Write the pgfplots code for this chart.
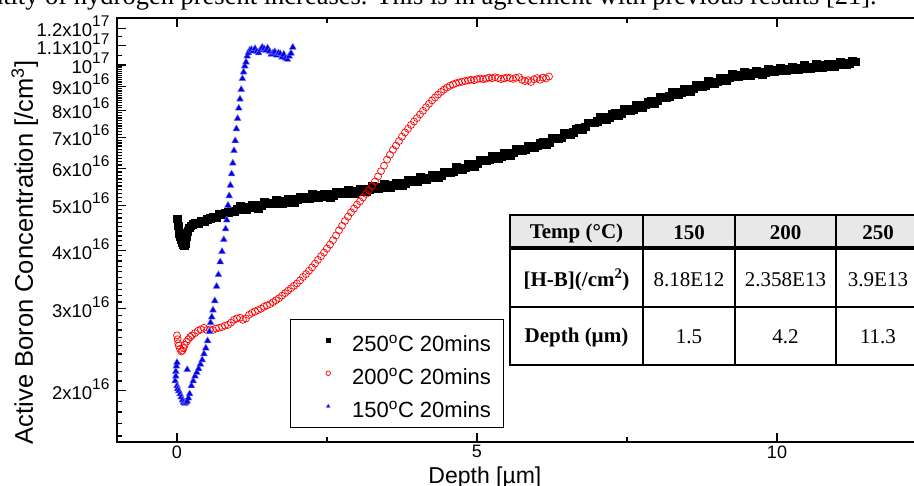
\documentclass[border=0pt]{standalone}
\usepackage{fontspec}
\setmainfont{Liberation Sans}
\newfontfamily\serif{Liberation Serif}
\usepackage{pgfplots}
\pgfplotsset{compat=1.18}
\newcommand{\fs}[1]{\fontsize{#1}{#1}\selectfont}
% big raised exponent as in the original tick labels
\newcommand{\tsup}[1]{\raisebox{10pt}{\fs{15.5}#1}}
\pgfplotsset{
  dotlegend/.style={legend image code/.code={%
    \path[draw=none, fill=none] (0pt,0pt) (50pt,0pt);
    \draw[##1, mark size=2.3pt] plot coordinates {(29pt,0pt)};}},
}

\begin{document}
\begin{tikzpicture}[x=1pt,y=1pt]
\useasboundingbox (0,0) rectangle (914,486);
\clip (0,0) rectangle (914,486);
% remnant of the page text above the figure
\node[anchor=base east, font=\serif\fs{26.5}, inner sep=0pt] at (877,481)
  {quantity of hydrogen present increases. This is in agreement with previous results [21].};
\begin{axis}[
    at={(117pt,44pt)}, anchor=south west,
    scale only axis, width=840pt, height=424pt,
    xmin=-1, xmax=13,
    ymode=log, ymin=1.553, ymax=12.62,
    axis line style={line width=2.2pt},
    tick style={line width=1.3pt, black},
    tick align=inside,
    major tick length=9pt, minor tick length=5pt,
    xtick={0,5,10}, xticklabels={0,5,10},
    minor xtick={2.5,7.5},
    ytick={2,3,4,5,6,7,8,9,10,11,12},
    yticklabels={2x10\tsup{16},3x10\tsup{16},4x10\tsup{16},5x10\tsup{16},
      6x10\tsup{16},7x10\tsup{16},8x10\tsup{16},9x10\tsup{16},10\tsup{17},
      1.1x10\tsup{17},1.2x10\tsup{17}},
    minor ytick={1.6,1.7,1.8,1.9,2.1,2.2,2.3,2.4,2.5,2.6,2.7,2.8,2.9,
      3.1,3.2,3.3,3.4,3.5,3.6,3.7,3.8,3.9,4.1,4.2,4.3,4.4,4.5,4.6,4.7,4.8,4.9,
      5.1,5.2,5.3,5.4,5.5,5.6,5.7,5.8,5.9,6.1,6.2,6.3,6.4,6.5,6.6,6.7,6.8,6.9,
      7.1,7.2,7.3,7.4,7.5,7.6,7.7,7.8,7.9,8.1,8.2,8.3,8.4,8.5,8.6,8.7,8.8,8.9,
      9.1,9.2,9.3,9.4,9.5,9.6,9.7,9.8,9.9,10.5,11.5},
    xticklabel style={font=\fs{18}},
    yticklabel style={font=\fs{18.5}, anchor=base east, xshift=-4pt, yshift=-8.5pt},
    xlabel={Depth [µm]},
    ylabel={Active Boron Concentration [/cm\textsuperscript{3}]},
    xlabel style={font=\fs{23}, at={(axis description cs:0.438,-0.0979)}, anchor=base},
    ylabel style={font=\fs{25.5}, at={(axis description cs:-0.1,0.447)}, anchor=base},
    legend style={at={(axis description cs:0.206,0.290)}, anchor=north west,
      draw=black, thin, font=\fs{22}, inner xsep=9pt, inner ysep=7pt,
      row sep=5pt, nodes={inner sep=3pt, text height=22pt, text depth=0pt}},
    legend cell align=left,
]
% 250 C
\addplot[only marks, mark=square*, mark size=3.8pt, black, dotlegend] coordinates {
(0.00,4.68) (0.01,4.60) (0.02,4.52) (0.03,4.44) (0.04,4.36) (0.05,4.28) (0.06,4.22)
(0.08,4.16) (0.10,4.12) (0.12,4.10) (0.14,4.15) (0.16,4.28) (0.18,4.40) (0.20,4.48)
(0.23,4.52) (0.26,4.55) (0.30,4.58) (0.35,4.57) (0.40,4.63) (0.45,4.62) (0.50,4.67)
(0.55,4.69) (0.60,4.72) (0.65,4.71) (0.70,4.78) (0.75,4.77) (0.80,4.82) (0.85,4.84)
(0.90,4.86) (0.95,4.85) (1.00,4.90) (1.10,4.95) (1.20,4.94) (1.30,5.01) (1.40,4.99)
(1.50,5.07) (1.60,5.05) (1.70,5.11) (1.80,5.08) (1.90,5.15) (2.00,5.14) (2.10,5.20)
(2.20,5.18) (2.30,5.25) (2.40,5.23) (2.50,5.28) (2.60,5.26) (2.70,5.33) (2.80,5.31)
(2.90,5.37) (3.00,5.35) (3.10,5.42) (3.20,5.41) (3.30,5.47) (3.40,5.46) (3.50,5.52)
(3.60,5.51) (3.70,5.58) (3.80,5.58) (3.90,5.66) (4.00,5.64) (4.10,5.73) (4.20,5.73)
(4.30,5.81) (4.40,5.81) (4.50,5.90) (4.60,5.91) (4.70,6.01) (4.80,6.02) (4.90,6.13)
(5.00,6.14) (5.10,6.25) (5.20,6.26) (5.30,6.37) (5.40,6.38) (5.50,6.49) (5.60,6.48)
(5.70,6.59) (5.80,6.60) (5.90,6.70) (6.00,6.71) (6.10,6.84) (6.20,6.84) (6.30,6.98)
(6.40,6.99) (6.50,7.14) (6.60,7.17) (6.70,7.34) (6.80,7.37) (6.90,7.53) (7.00,7.58)
(7.10,7.71) (7.20,7.74) (7.30,7.88) (7.40,7.89) (7.50,8.04) (7.60,8.05) (7.70,8.20)
(7.80,8.22) (7.90,8.37) (8.00,8.39) (8.10,8.55) (8.20,8.57) (8.30,8.73) (8.40,8.74)
(8.50,8.89) (8.60,8.90) (8.70,9.05) (8.80,9.06) (8.90,9.21) (9.00,9.22) (9.10,9.37)
(9.20,9.39) (9.30,9.53) (9.40,9.51) (9.50,9.61) (9.60,9.59) (9.70,9.68) (9.80,9.66)
(9.90,9.75) (10.00,9.73) (10.10,9.82) (10.20,9.79) (10.30,9.88) (10.40,9.85)
(10.50,9.93) (10.60,9.90) (10.70,9.99) (10.80,9.95) (10.90,10.04) (11.00,10.01)
(11.10,10.10) (11.20,10.07) (11.30,10.16)
(1.05,4.99) (1.15,4.90) (1.25,5.00) (1.35,4.93) (1.45,5.08) (1.55,5.04) (1.65,5.14)
(1.75,5.05) (1.85,5.15) (1.95,5.08) (2.05,5.22) (2.15,5.17) (2.25,5.28) (2.35,5.19)
(2.45,5.29) (2.55,5.20) (2.65,5.35) (2.75,5.30) (2.85,5.40) (2.95,5.31) (3.05,5.42)
(3.15,5.35) (3.25,5.49) (3.35,5.45) (3.45,5.55) (3.55,5.47) (3.65,5.58) (3.75,5.51)
(3.85,5.67) (3.95,5.63) (4.05,5.75) (4.15,5.68) (4.25,5.80) (4.35,5.74) (4.45,5.91)
(4.55,5.89) (4.65,6.03) (4.75,5.96) (4.85,6.12) (4.95,6.06) (5.05,6.26) (5.15,6.23)
(5.25,6.39) (5.35,6.32) (5.45,6.48) (5.55,6.41) (5.65,6.60) (5.75,6.57) (5.85,6.72)
(5.95,6.65) (6.05,6.82) (6.15,6.76) (6.25,6.98) (6.35,6.96) (6.45,7.15) (6.55,7.09)
(6.65,7.31) (6.75,7.27) (6.85,7.52) (6.95,7.52) (7.05,7.73) (7.15,7.66) (7.25,7.86)
(7.35,7.80) (7.45,8.05) (7.55,8.01) (7.65,8.22) (7.75,8.13) (7.85,8.35) (7.95,8.28)
(8.05,8.55) (8.15,8.51) (8.25,8.74) (8.35,8.66) (8.45,8.88) (8.55,8.80) (8.65,9.06)
(8.75,9.01) (8.85,9.23) (8.95,9.13) (9.05,9.37) (9.15,9.28) (9.25,9.55) (9.35,9.46)
(9.45,9.66) (9.55,9.52) (9.65,9.71) (9.75,9.57) (9.85,9.80) (9.95,9.68) (10.05,9.88)
(10.15,9.73) (10.25,9.91) (10.35,9.77) (10.45,9.98) (10.55,9.86) (10.65,10.05)
(10.75,9.89) (10.85,10.07) (10.95,9.93) (11.05,10.15) (11.15,10.03) (11.25,10.22)
};
\addlegendentry{250\textsuperscript{o}C 20mins}
% 200 C
\addplot[only marks, mark=o, mark size=3.5pt, red, line width=0.7pt, dotlegend] coordinates {
(0.00,2.63) (0.01,2.58) (0.02,2.53) (0.03,2.50) (0.05,2.46) (0.07,2.43) (0.09,2.44)
(0.11,2.47) (0.13,2.51) (0.16,2.55) (0.19,2.58) (0.22,2.61) (0.25,2.63) (0.30,2.66)
(0.35,2.69) (0.40,2.71) (0.45,2.73) (0.50,2.70) (0.55,2.71) (0.60,2.70) (0.65,2.72)
(0.70,2.73) (0.75,2.74) (0.80,2.76) (0.85,2.77) (0.90,2.80) (0.95,2.84) (1.00,2.86)
(1.05,2.87) (1.10,2.84) (1.15,2.86) (1.20,2.91) (1.25,2.94) (1.30,2.96) (1.35,2.98)
(1.40,3.00) (1.45,3.03) (1.50,3.05) (1.55,3.07) (1.60,3.10) (1.65,3.13) (1.70,3.16)
(1.75,3.20) (1.80,3.24) (1.85,3.28) (1.90,3.32) (1.95,3.36) (2.00,3.40) (2.05,3.45)
(2.10,3.51) (2.15,3.56) (2.20,3.62) (2.25,3.68) (2.30,3.75) (2.35,3.82) (2.40,3.89)
(2.45,3.96) (2.50,4.04) (2.55,4.12) (2.60,4.21) (2.65,4.31) (2.70,4.42) (2.75,4.52)
(2.80,4.63) (2.85,4.73) (2.90,4.83) (2.95,4.92) (3.00,5.02) (3.05,5.10) (3.10,5.20)
(3.15,5.29) (3.20,5.39) (3.25,5.50) (3.30,5.63) (3.35,5.77) (3.40,5.92) (3.45,6.08)
(3.50,6.27) (3.55,6.42) (3.60,6.58) (3.65,6.72) (3.70,6.87) (3.75,7.02) (3.80,7.17)
(3.85,7.30) (3.90,7.44) (3.95,7.57) (4.00,7.70) (4.05,7.84) (4.10,7.98) (4.15,8.12)
(4.20,8.26) (4.25,8.40) (4.30,8.52) (4.35,8.64) (4.40,8.76) (4.45,8.86) (4.50,8.95)
(4.55,9.03) (4.60,9.09) (4.65,9.14) (4.70,9.18) (4.75,9.21) (4.80,9.24) (4.85,9.27)
(4.90,9.30) (4.95,9.28) (5.00,9.33) (5.05,9.36) (5.10,9.32) (5.15,9.35) (5.20,9.40)
(5.25,9.37) (5.30,9.42) (5.35,9.38) (5.40,9.33) (5.45,9.36) (5.50,9.41) (5.55,9.38)
(5.60,9.34) (5.65,9.39) (5.70,9.42) (5.75,9.30) (5.80,9.24) (5.85,9.28) (5.90,9.20)
(5.95,9.32) (6.00,9.38) (6.05,9.30) (6.10,9.40) (6.15,9.36) (6.20,9.45)
};
\addlegendentry{200\textsuperscript{o}C 20mins}
% 150 C
\addplot[only marks, mark=triangle*, mark size=4pt,
  mark options={fill=blue!90!black, draw=blue!55}, dotlegend] coordinates {
(-0.03,2.10) (-0.02,2.20) (-0.01,2.26) (0.00,2.30) (-0.02,2.15) (0.00,2.05) (0.01,2.02)
(0.03,2.00) (0.05,1.97) (0.07,1.94) (0.09,1.91) (0.11,1.89) (0.13,1.88) (0.15,1.89)
(0.17,1.90) (0.19,1.93) (0.21,1.97) (0.17,2.22) (0.24,2.05) (0.27,2.10) (0.30,2.15)
(0.33,2.19) (0.36,2.23) (0.39,2.28) (0.42,2.33) (0.45,2.40) (0.48,2.47) (0.51,2.56)
(0.54,2.68) (0.56,2.80) (0.58,2.88) (0.60,2.98) (0.63,3.12) (0.66,3.35) (0.69,3.55)
(0.72,3.78) (0.75,3.98) (0.78,4.22) (0.81,4.45) (0.83,4.65) (0.85,5.00) (0.87,5.24)
(0.89,5.52) (0.91,5.84) (0.93,6.16) (0.95,6.55) (0.97,6.88) (0.99,7.30) (1.01,7.68)
(1.03,8.08) (1.05,8.45) (1.07,8.86) (1.09,9.35) (1.11,9.66) (1.13,9.95) (1.15,10.15)
(1.17,10.45) (1.19,10.62) (1.21,10.75) (1.24,10.80) (1.27,10.72) (1.30,10.85)
(1.33,10.70) (1.36,10.62) (1.39,10.78) (1.42,10.92) (1.45,10.85) (1.48,10.75)
(1.51,10.88) (1.54,10.70) (1.57,10.55) (1.60,10.62) (1.63,10.68) (1.66,10.50)
(1.69,10.62) (1.72,10.58) (1.75,10.40) (1.78,10.55) (1.81,10.35) (1.84,10.28)
(1.87,10.45) (1.90,10.60) (1.93,10.92)
};
\addlegendentry{150\textsuperscript{o}C 20mins}
\end{axis}
% inset table
\fill[white] (510,121) rectangle (920,271);
\fill[gray!18] (510,238) rectangle (920,271);
\draw[line width=1.6pt] (510,121) rectangle (920,271);
\draw[line width=4pt] (510,237.5) -- (920,237.5);
\draw[line width=1.4pt] (510,179) -- (920,179);
\foreach \x in {643,735,836} \draw[line width=1.4pt] (\x,121) -- (\x,271);
\begin{scope}[every node/.style={font=\serif\fs{21}, anchor=center}]
\node at (576.5,253) {\bfseries Temp (°C)};
\node at (689,253) {\bfseries 150};
\node at (785.5,253) {\bfseries 200};
\node at (878,253) {\bfseries 250};
\node at (576.5,206) {\bfseries [H-B](/cm\textsuperscript{2})};
\node at (689,206) {8.18E12};
\node at (785.5,206) {2.358E13};
\node at (878,206) {3.9E13};
\node at (576.5,149) {\bfseries Depth (µm)};
\node at (689,149) {1.5};
\node at (785.5,149) {4.2};
\node at (878,149) {11.3};
\end{scope}
\end{tikzpicture}
\end{document}
